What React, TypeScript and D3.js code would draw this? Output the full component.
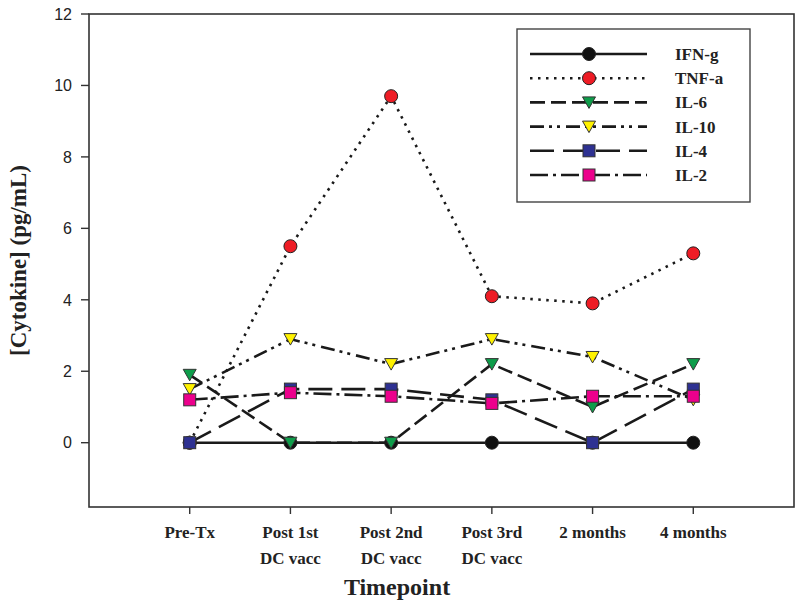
import React from "react";
import * as d3 from "d3";

const categories: string[][] = [
  ["Pre-Tx"],
  ["Post 1st", "DC vacc"],
  ["Post 2nd", "DC vacc"],
  ["Post 3rd", "DC vacc"],
  ["2 months"],
  ["4 months"],
];

const ifng = [0, 0, 0, 0, 0, 0];
const tnfa = [0, 5.5, 9.7, 4.1, 3.9, 5.3];
const il6 = [1.9, 0, 0, 2.2, 1.0, 2.2];
const il10 = [1.5, 2.9, 2.2, 2.9, 2.4, 1.2];
const il4 = [0, 1.5, 1.5, 1.2, 0, 1.5];
const il2 = [1.2, 1.4, 1.3, 1.1, 1.3, 1.3];

const yTicks = [0, 2, 4, 6, 8, 10, 12];

const seriesNames = ["IFN-g", "TNF-a", "IL-6", "IL-10", "IL-4", "IL-2"];
const seriesValues = [ifng, tnfa, il6, il10, il4, il2];
const seriesColors = ["#111111", "#ee1c25", "#0e9d4a", "#fff200", "#2e3192", "#ec008c"];
const seriesShapes = ["circle", "circle", "triDown", "triDown", "square", "square"];
const seriesDash = ["none", "2.5,5.5", "15,6", "14,5,3,5,3,6", "24,9", "18,5,3,5"];

const W = 800;
const H = 604;
const left = 89;
const right = 794;
const top = 14;
const bottom = 507;

const x = d3.scaleLinear().domain([0, 7]).range([left, right]);
const y = d3.scaleLinear().domain([-1.8, 12]).range([bottom, top]);

const INK = "#222";

function Marker({ shape, cx, cy, fill }: { shape: string; cx: number; cy: number; fill: string }) {
  if (shape === "circle") {
    return <circle cx={cx} cy={cy} r={6.5} fill={fill} stroke="#222" strokeWidth={1} />;
  }
  if (shape === "square") {
    return <rect x={cx - 6} y={cy - 6} width={12} height={12} fill={fill} stroke="#333" strokeWidth={1} />;
  }
  const p = d3.path();
  p.moveTo(cx - 6.5, cy - 5.5);
  p.lineTo(cx + 6.5, cy - 5.5);
  p.lineTo(cx, cy + 6);
  p.closePath();
  return <path d={p.toString()} fill={fill} stroke="#333" strokeWidth={1} />;
}

export default function App() {
  const line = d3
    .line<number>()
    .x((_, i) => x(i + 1))
    .y((v) => y(v));

  const legendRowY = (i: number) => 54 + i * 24.2;

  return (
    <svg
      width={W}
      height={H}
      style={{ position: "absolute", left: 0, top: 0, background: "#fff" }}
      fontFamily="'Liberation Serif', 'Times New Roman', serif"
    >
      <rect x={0} y={0} width={W} height={H} fill="#fff" />
      {/* frame */}
      <rect x={left} y={top} width={right - left} height={bottom - top} fill="none" stroke="#333" strokeWidth={1.6} />

      {/* y ticks */}
      {yTicks.map((t) => (
        <g key={t}>
          <line x1={left - 8} x2={left} y1={y(t)} y2={y(t)} stroke="#333" strokeWidth={1.4} />
          <text
            x={72}
            y={y(t)}
            dy="0.36em"
            textAnchor="end"
            fontFamily="'Liberation Sans', Arial, sans-serif"
            fontSize={16}
            fill={INK}
          >
            {t}
          </text>
        </g>
      ))}

      {/* x ticks */}
      {categories.map((c, i) => (
        <g key={i}>
          <line x1={x(i + 1)} x2={x(i + 1)} y1={bottom} y2={bottom + 7} stroke="#333" strokeWidth={1.4} />
          {c.map((ln, j) => (
            <text
              key={j}
              x={x(i + 1)}
              y={538 + j * 26}
              textAnchor="middle"
              fontWeight="bold"
              fontSize={17}
              fill={INK}
            >
              {ln}
            </text>
          ))}
        </g>
      ))}

      {/* axis titles */}
      <text x={397} y={595} textAnchor="middle" fontWeight="bold" fontSize={24} fill={INK}>
        Timepoint
      </text>
      <text
        transform={`translate(26, ${(top + bottom) / 2}) rotate(-90)`}
        textAnchor="middle"
        fontWeight="bold"
        fontSize={23}
        fill={INK}
      >
        [Cytokine] (pg/mL)
      </text>

      {/* series */}
      {seriesValues.map((vals, s) => (
        <g key={s}>
          <path
            d={line(vals) || ""}
            fill="none"
            stroke="#1a1a1a"
            strokeWidth={2.6}
            strokeDasharray={seriesDash[s] === "none" ? undefined : seriesDash[s]}
          />
          {vals.map((v, i) => (
            <Marker key={i} shape={seriesShapes[s]} cx={x(i + 1)} cy={y(v)} fill={seriesColors[s]} />
          ))}
        </g>
      ))}

      {/* legend */}
      <rect x={517} y={29} width={233} height={173} fill="#fff" stroke="#444" strokeWidth={1.4} />
      {seriesNames.map((name, s) => (
        <g key={name}>
          <line
            x1={530}
            x2={647}
            y1={legendRowY(s)}
            y2={legendRowY(s)}
            stroke="#1a1a1a"
            strokeWidth={2.6}
            strokeDasharray={seriesDash[s] === "none" ? undefined : seriesDash[s]}
          />
          <Marker shape={seriesShapes[s]} cx={589} cy={legendRowY(s)} fill={seriesColors[s]} />
          <text x={675} y={legendRowY(s) + 6} fontWeight="bold" fontSize={17} fill={INK}>
            {name}
          </text>
        </g>
      ))}
    </svg>
  );
}
